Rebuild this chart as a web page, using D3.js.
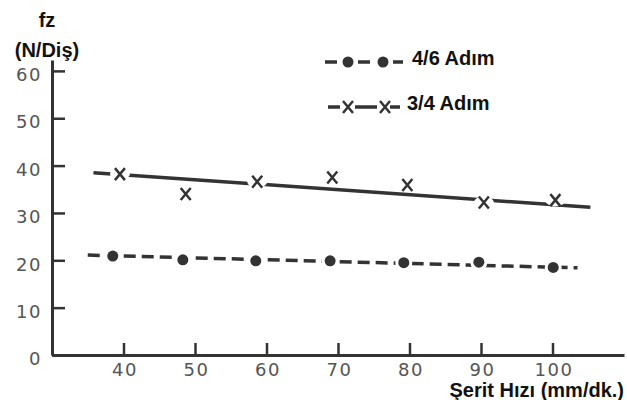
<!DOCTYPE html>
<html>
<head>
<meta charset="utf-8">
<script src="https://cdn.jsdelivr.net/npm/d3@7"></script>
<style>
  body { margin: 0; background: #fff; }
  svg { display: block; }
  .tick text { font-family: "DejaVu Sans", sans-serif; font-size: 18px; fill: #555; letter-spacing: 1.5px; }
  .lbl { font-family: "Liberation Sans", Arial, sans-serif; font-weight: bold; font-size: 20px; fill: #111; }
</style>
</head>
<body>
<div class="chart"></div>
<script>
  // values
  var xTicks = [40, 50, 60, 70, 80, 90, 100];
  var yTicks = [0, 10, 20, 30, 40, 50, 60];

  // 4/6 Adim (dots + dashed line)
  var speeds46 = [38.5, 48.3, 58.5, 68.9, 79.2, 89.7, 100.1];
  var force46 = [20.9, 20.1, 19.9, 19.9, 19.5, 19.6, 18.5];
  var fit46X = [35, 103.5];
  var fit46Y = [21.1, 18.4];

  // 3/4 Adim (crosses + solid line)
  var speeds34 = [39.5, 48.7, 58.7, 69.2, 79.7, 90.4, 100.4];
  var force34 = [38.2, 34.0, 36.6, 37.5, 35.9, 32.2, 32.7];
  var fit34X = [35.8, 105.3];
  var fit34Y = [38.5, 31.2];

  var width = 627, height = 400;
  var ink = '#333';

  var svg = d3.select('.chart')
    .append('svg')
    .attr('width', width)
    .attr('height', height);

  svg.append('rect').attr('width', width).attr('height', height).attr('fill', '#fff');

  var x = d3.scaleLinear().domain([30, 110]).range([52, 624]);
  var y = d3.scaleLinear().domain([0, 62.3]).range([355, 60]);

  // axes - ticks point inwards, labels outside
  var yAxis = svg.append('g')
    .attr('transform', 'translate(52,0)')
    .call(d3.axisLeft(y).tickValues(yTicks).tickSizeInner(-13).tickSizeOuter(0).tickPadding(10));
  yAxis.selectAll('text').attr('dy', '0.54em');

  var xAxis = svg.append('g')
    .attr('transform', 'translate(0,355)')
    .call(d3.axisBottom(x).tickValues(xTicks).tickSizeInner(-12).tickSizeOuter(0).tickPadding(8));
  xAxis.selectAll('text').attr('dx', '1px');

  svg.selectAll('.domain').attr('stroke', ink).attr('stroke-width', 3);
  svg.selectAll('.tick line').attr('stroke', ink).attr('stroke-width', 2.5);

  // fitted lines
  var line = d3.line()
    .x(function (d) { return x(d[0]); })
    .y(function (d) { return y(d[1]); });

  svg.append('path')
    .datum(d3.zip(fit46X, fit46Y))
    .attr('d', line)
    .attr('fill', 'none')
    .attr('stroke', ink)
    .attr('stroke-width', 3.5)
    .attr('stroke-dasharray', '12,6');

  svg.append('path')
    .datum(d3.zip(fit34X, fit34Y))
    .attr('d', line)
    .attr('fill', 'none')
    .attr('stroke', ink)
    .attr('stroke-width', 3.5);

  // white halos so the lines break around the markers
  var pts46 = d3.zip(speeds46, force46);
  var pts34 = d3.zip(speeds34, force34);

  svg.selectAll('.halo46')
    .data(pts46)
    .enter()
    .append('circle')
    .attr('cx', function (d) { return x(d[0]); })
    .attr('cy', function (d) { return y(d[1]); })
    .attr('r', 8.5)
    .attr('fill', '#fff');

  svg.selectAll('.halo34')
    .data(pts34)
    .enter()
    .append('ellipse')
    .attr('cx', function (d) { return x(d[0]); })
    .attr('cy', function (d) { return y(d[1]); })
    .attr('rx', 10)
    .attr('ry', 6)
    .attr('fill', '#fff');

  svg.selectAll('.dot')
    .data(pts46)
    .enter()
    .append('circle')
    .attr('cx', function (d) { return x(d[0]); })
    .attr('cy', function (d) { return y(d[1]); })
    .attr('r', 5.5)
    .attr('fill', ink);

  var cross = 'M-5,-6L5,6M5,-6L-5,6';
  svg.selectAll('.cross')
    .data(pts34)
    .enter()
    .append('path')
    .attr('transform', function (d) { return 'translate(' + x(d[0]) + ',' + y(d[1]) + ')'; })
    .attr('d', cross)
    .attr('fill', 'none')
    .attr('stroke', ink)
    .attr('stroke-width', 2.5);

  // legend
  var lg = svg.append('g');
  [[325, 337], [358, 370], [393, 403]].forEach(function (s) {
    lg.append('line').attr('x1', s[0]).attr('x2', s[1]).attr('y1', 62).attr('y2', 62)
      .attr('stroke', ink).attr('stroke-width', 3.5);
  });
  [348, 383].forEach(function (cx) {
    lg.append('circle').attr('cx', cx).attr('cy', 62).attr('r', 5.5).attr('fill', ink);
  });
  [[328, 340], [355, 377], [390, 400]].forEach(function (s) {
    lg.append('line').attr('x1', s[0]).attr('x2', s[1]).attr('y1', 107).attr('y2', 107)
      .attr('stroke', ink).attr('stroke-width', 3.5);
  });
  [348, 385].forEach(function (cx) {
    lg.append('path').attr('transform', 'translate(' + cx + ',107)').attr('d', cross)
      .attr('fill', 'none').attr('stroke', ink).attr('stroke-width', 2.5);
  });
  lg.append('text').attr('class', 'lbl').attr('x', 412).attr('y', 65).text('4/6 Adım');
  lg.append('text').attr('class', 'lbl').attr('x', 407).attr('y', 110).text('3/4 Adım');

  // axis titles
  svg.append('text').attr('class', 'lbl').attr('x', 47).attr('y', 27).attr('text-anchor', 'middle').text('fz');
  svg.append('text').attr('class', 'lbl').attr('x', 47).attr('y', 57).attr('text-anchor', 'middle').text('(N/Diş)');
  svg.append('text').attr('class', 'lbl').attr('x', 624).attr('y', 397).attr('text-anchor', 'end').text('Şerit Hızı (mm/dk.)');
</script>
</body>
</html>
